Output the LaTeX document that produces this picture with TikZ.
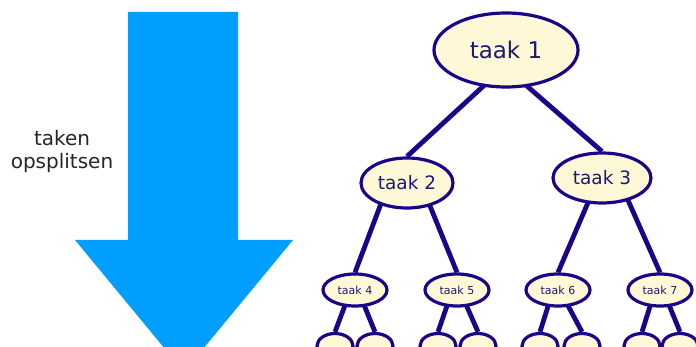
\documentclass[tikz,border=0pt]{standalone}
\usepackage{fontspec}
\setmainfont{DejaVu Sans}
\usetikzlibrary{shapes.geometric,backgrounds,calc}
\definecolor{arrowblue}{RGB}{0,158,255}
\definecolor{navyline}{RGB}{28,4,136}
\definecolor{navytext}{RGB}{26,26,112}
\definecolor{creamfill}{RGB}{255,248,215}
\begin{document}
\begin{tikzpicture}[x=1pt,y=-1pt,
  task/.style={ellipse, draw=navyline, fill=creamfill, line width=3.2pt,
    text=navytext, inner sep=0pt},
  big/.style={task, minimum width=144pt, minimum height=74pt, font=\fontsize{23}{26}\selectfont},
  mid/.style={task, minimum width=92pt, minimum height=50pt, font=\fontsize{18.5}{21}\selectfont},
  small/.style={task, minimum width=64pt, minimum height=32pt, font=\fontsize{11}{13}\selectfont},
  leaf/.style={task, minimum width=36pt, minimum height=25pt},
  link/.style={draw=navyline, line width=4.8pt}]
\useasboundingbox (0,0) rectangle (696,347);

% big downward arrow
\fill[arrowblue] (128,12) -- (238,12) -- (238,240) -- (293,240) -- (184,372)
  -- (75,240) -- (128,240) -- cycle;
\node[text=black!85, align=center, font=\fontsize{20}{23}\selectfont] (lbl) at (62,151)
  {taken\\opsplitsen};

% task tree
\node[big] (t1) at (506,50) {taak 1};
\node[mid] (t2) at (407,183) {taak 2};
\node[mid, minimum width=98pt] (t3) at (602,178) {taak 3};
\node[small] (t4) at (355,290) {taak 4};
\node[small] (t5) at (457,290) {taak 5};
\node[small] (t6) at (558,290) {taak 6};
\node[small] (t7) at (660,290) {taak 7};
\node[leaf] (l1) at (335,346) {};
\node[leaf] (l2) at (375,346) {};
\node[leaf] (l3) at (438,346) {};
\node[leaf] (l4) at (478,346) {};
\node[leaf] (l5) at (540,346) {};
\node[leaf] (l6) at (582,346) {};
\node[leaf] (l7) at (642,346) {};
\node[leaf] (l8) at (680,346) {};

% connectors leave each parent from just inside its lower rim
\begin{scope}[on background layer]
\draw[link] ($(t1.center)+(-16,30)$) -- (t2.north);
\draw[link] ($(t1.center)+(14,30)$) -- (t3.north);
\draw[link] ($(t2.center)+(-25,18)$) -- (t4.north);
\draw[link] ($(t2.center)+(21,18)$) -- (t5.north);
\draw[link] ($(t3.center)+(-12,20)$) -- (t6.north);
\draw[link] ($(t3.center)+(25,20)$) -- (t7.north);
\draw[link] ($(t4.center)+(-8,10)$) -- (l1.north);
\draw[link] ($(t4.center)+(7,10)$) -- (l2.north);
\draw[link] ($(t5.center)+(-8,10)$) -- (l3.north);
\draw[link] ($(t5.center)+(7,10)$) -- (l4.north);
\draw[link] ($(t6.center)+(-8,10)$) -- (l5.north);
\draw[link] ($(t6.center)+(7,10)$) -- (l6.north);
\draw[link] ($(t7.center)+(-8,10)$) -- (l7.north);
\draw[link] ($(t7.center)+(7,10)$) -- (l8.north);
\end{scope}
\end{tikzpicture}
\end{document}
